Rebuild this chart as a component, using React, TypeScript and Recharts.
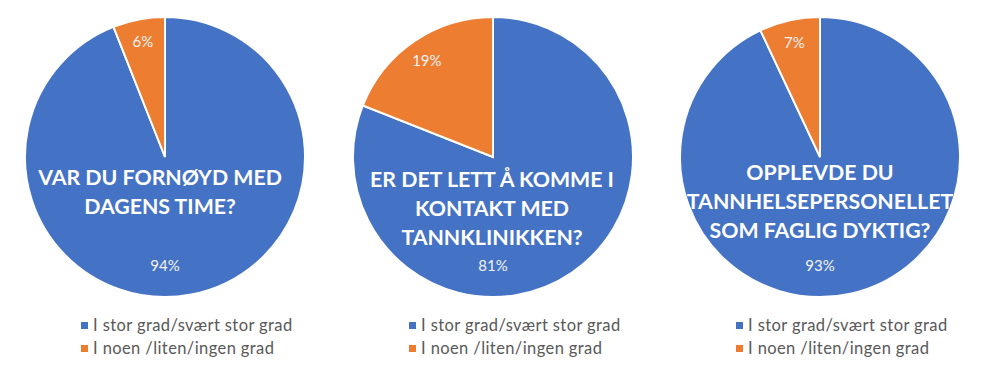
import React from 'react';
import { PieChart, Pie, Cell } from 'recharts';

// categories (legend order) and colours
const CATEGORIES = ['I stor grad/svært stor grad', 'I noen /liten/ingen grad'];
const COLORS = ['#4472C4', '#ED7D31'];

// values in percent, one list per question
const FORNOYD = [94, 6];
const KONTAKT = [81, 19];
const FAGLIG = [93, 7];

const TITLES = [
  ['VAR DU FORNØYD MED', 'DAGENS TIME?'],
  ['ER DET LETT Å KOMME I', 'KONTAKT MED', 'TANNKLINIKKEN?'],
  ['OPPLEVDE DU', 'TANNHELSEPERSONELLET', 'SOM FAGLIG DYKTIG?'],
];

const FONT = 'Lato, "Open Sans", sans-serif';
const RADIUS = 140;
const CY = 157;

const charts = [
  { values: FORNOYD, title: TITLES[0], cx: 165, titleX: 160, titleTop: 163 },
  { values: KONTAKT, title: TITLES[1], cx: 493, titleX: 492, titleTop: 165 },
  { values: FAGLIG, title: TITLES[2], cx: 820, titleX: 820, titleTop: 158 },
];

const toData = (values: number[]) =>
  values.map((v, i) => ({ name: CATEGORIES[i], value: v }));

// big slice label sits low in the pie, small slice on its mid angle
const renderLabel = ({ cx, cy, midAngle, outerRadius, value, percent }: any) => {
  const RADIAN = Math.PI / 180;
  const big = percent > 0.5;
  const angle = big ? -90 : midAngle;
  const r = big ? outerRadius * 0.77 : outerRadius * 0.84;
  const x = cx + r * Math.cos(-angle * RADIAN);
  const y = cy + r * Math.sin(-angle * RADIAN);
  return (
    <text
      x={x}
      y={y}
      fill="#F2F2F2"
      textAnchor="middle"
      dominantBaseline="central"
      fontSize={15}
      fontFamily={FONT}
    >
      {value}%
    </text>
  );
};

export default function App() {
  return (
    <div
      style={{
        position: 'absolute',
        left: 0,
        top: 0,
        width: 986,
        height: 381,
        background: '#fff',
        fontFamily: FONT,
      }}
    >
      <PieChart width={986} height={381} margin={{ top: 0, right: 0, bottom: 0, left: 0 }}>
        {charts.map((c, k) => (
          <Pie
            key={k}
            data={toData(c.values)}
            dataKey="value"
            cx={c.cx}
            cy={CY}
            outerRadius={RADIUS}
            startAngle={90}
            endAngle={-270}
            stroke="#fff"
            strokeWidth={2}
            labelLine={false}
            label={renderLabel}
            isAnimationActive={false}
          >
            {c.values.map((_, i) => (
              <Cell key={i} fill={COLORS[i]} />
            ))}
          </Pie>
        ))}
      </PieChart>

      {charts.map((c, k) => (
        <div
          key={'t' + k}
          style={{
            position: 'absolute',
            left: c.titleX - 150,
            top: c.titleTop,
            width: 300,
            textAlign: 'center',
            color: '#fff',
            fontWeight: 700,
            fontSize: 21.3,
            lineHeight: '29px',
            whiteSpace: 'nowrap',
            pointerEvents: 'none',
          }}
        >
          {c.title.map((line, i) => (
            <div key={i}>{line}</div>
          ))}
        </div>
      ))}

      {charts.map((c, k) => (
        <div
          key={'l' + k}
          style={{
            position: 'absolute',
            left: c.cx - 84,
            top: 314,
            fontSize: 16.5,
            letterSpacing: 0.4,
            lineHeight: '23px',
            color: '#595959',
            whiteSpace: 'nowrap',
          }}
        >
          {CATEGORIES.map((name, i) => (
            <div key={i} style={{ display: 'flex', alignItems: 'center' }}>
              <span
                style={{
                  display: 'inline-block',
                  width: 7,
                  height: 7,
                  background: COLORS[i],
                  marginRight: 5,
                }}
              />
              {name}
            </div>
          ))}
        </div>
      ))}
    </div>
  );
}
